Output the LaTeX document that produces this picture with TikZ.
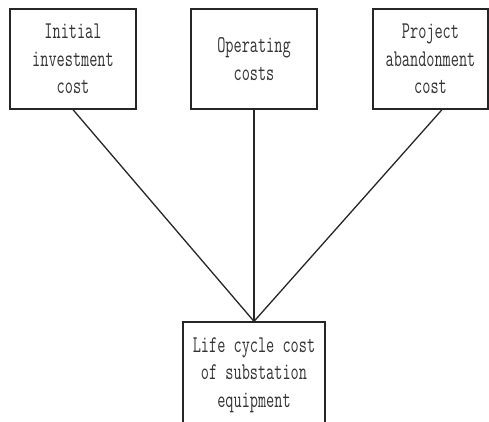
\documentclass[tikz,border=0pt]{standalone}
\usepackage{fontspec}
\newfontfamily\boxfont[FakeStretch=0.66]{Latin Modern Mono}
\begin{document}
\begin{tikzpicture}[x=1pt,y=-1pt,
  cbox/.style={draw=black!85, line width=1.3pt, inner sep=0pt, align=center,
    font=\boxfont\fontsize{24}{27.5}\selectfont, text=black!80},
  conn/.style={draw=black!85, line width=1.3pt}]
\useasboundingbox (0,0) rectangle (489,421);
\clip (0,0) rectangle (489,421);
\node[cbox, minimum width=126pt, minimum height=100pt] (init) at (73,59) {Initial\\investment\\cost};
\node[cbox, minimum width=126pt, minimum height=100pt] (oper) at (254,59) {Operating\\costs};
\node[cbox, minimum width=115pt, minimum height=100pt] (aban) at (430.5,59) {Project\\abandonment\\cost};
\node[cbox, minimum width=142pt, minimum height=106pt] (lcc) at (254,375) {Life cycle cost\\of substation\\equipment};
\coordinate (abanfoot) at ([xshift=11.5pt]aban.south);
\draw[conn] (init.south) -- (lcc.north);
\draw[conn] (oper.south) -- (lcc.north);
\draw[conn] (abanfoot) -- (lcc.north);
\end{tikzpicture}
\end{document}
